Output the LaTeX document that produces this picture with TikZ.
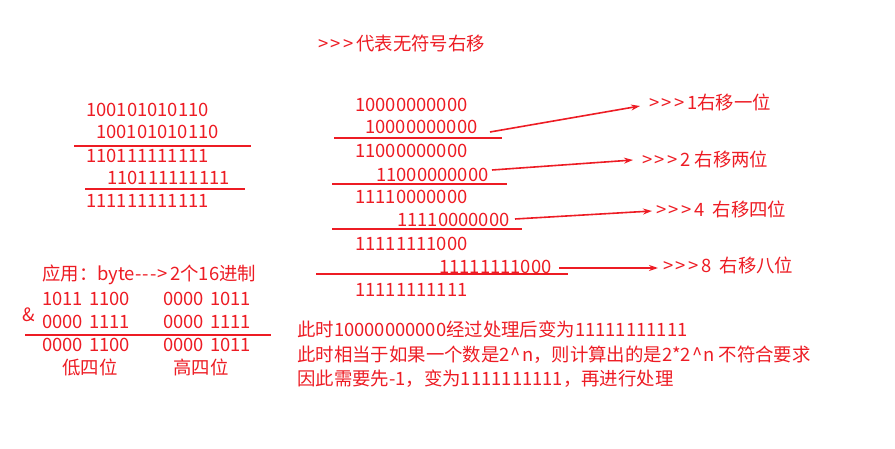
\documentclass[tikz,border=0pt]{standalone}
\usepackage{fontspec}
\setmainfont{Noto Sans CJK SC}
\newfontfamily\cjk{Noto Sans CJK SC}
\usetikzlibrary{arrows.meta}
\definecolor{myred}{RGB}{237,28,36}
\newcommand{\gtsym}{>\hspace{2.5pt}}
\newcommand{\dsh}{-\hspace{1pt}}
\begin{document}
\begin{tikzpicture}[x=1pt,y=-1pt,
  txt/.style={anchor=base west, inner sep=0pt, text=myred, font=\cjk\fontsize{18.4}{18.4}\selectfont},
  rule/.style={draw=myred, line width=1.6pt},
  arr/.style={draw=myred, line width=1.6pt, -{Stealth[length=9pt,width=6pt]}}]
\useasboundingbox (0,0) rectangle (895,449);
% title
\node[txt] (title) at (318,51) {\gtsym\gtsym\gtsym 代表无符号右移};
% left block
\node[txt] (a1) at (86,117) {100101010110};
\node[txt] (a2) at (96,139) {100101010110};
\node[txt] (a3) at (86,163) {110111111111};
\node[txt] (a4) at (107,185) {110111111111};
\node[txt] (a5) at (86,208) {111111111111};
\coordinate (la1) at (74,146); \coordinate (la2) at (251,146);
\coordinate (lb1) at (85,189); \coordinate (lb2) at (245,189);
\draw[rule] (la1) -- (la2);
\draw[rule] (lb1) -- (lb2);
% middle block
\node[txt] (m1) at (355,112) {10000000000};
\node[txt] (m2) at (365,134) {10000000000};
\node[txt] (m3) at (355,158) {11000000000};
\node[txt] (m4) at (376,182) {11000000000};
\node[txt] (m5) at (355,204) {11110000000};
\node[txt] (m6) at (397,227) {11110000000};
\node[txt] (m7) at (355,251) {11111111000};
\node[txt] (m8) at (439,274) {11111111000};
\node[txt] (m9) at (355,297) {11111111111};
\coordinate (r1a) at (334,138); \coordinate (r1b) at (502,138);
\coordinate (r2a) at (332,184); \coordinate (r2b) at (507,184);
\coordinate (r3a) at (332,229); \coordinate (r3b) at (522,229);
\coordinate (r4a) at (316,274); \coordinate (r4b) at (568,274);
\draw[rule] (r1a) -- (r1b);
\draw[rule] (r2a) -- (r2b);
\draw[rule] (r3a) -- (r3b);
\draw[rule] (r4a) -- (r4b);
% labels and arrows
\node[txt] (l1) at (649,110) {\gtsym\gtsym\gtsym 1右移一位};
\node[txt] (l2) at (642,167) {\gtsym\gtsym\gtsym 2 右移两位};
\node[txt] (l3) at (656,217) {\gtsym\gtsym\gtsym 4\ \ 右移四位};
\node[txt] (l4) at (663,273) {\gtsym\gtsym\gtsym 8\ \ 右移八位};
\coordinate (s1) at (490,132);
\coordinate (s2) at (492,170);
\coordinate (s3) at (515,219);
\coordinate (s4) at (559,268);
\draw[arr] (s1) -- ([xshift=-9pt,yshift=4pt]l1.base west);
\draw[arr] (s2) -- ([xshift=-9pt,yshift=7pt]l2.base west);
\draw[arr] (s3) -- ([xshift=-4pt,yshift=6pt]l3.base west);
\draw[arr] (s4) -- ([xshift=-5pt,yshift=5pt]l4.base west);
% bottom-left block
\node[txt] (b0) at (42,281) {应用：byte\dsh\dsh\dsh\gtsym 2个16进制};
\node[txt] (b1) at (42,306) {1011\hspace{2pt} 1100};
\node[txt] (b2) at (163,306) {0000\hspace{2pt} 1011};
\node[txt] (amp) at (22,322) {\&};
\node[txt] (b3) at (42,329) {0000\hspace{2pt} 1111};
\node[txt] (b4) at (163,329) {0000\hspace{2pt} 1111};
\coordinate (rb1) at (25,335); \coordinate (rb2) at (271,335);
\draw[rule] (rb1) -- (rb2);
\node[txt] (b5) at (42,352) {0000\hspace{2pt} 1100};
\node[txt] (b6) at (163,352) {0000\hspace{2pt} 1011};
\node[txt] (b7) at (62,374) {低四位};
\node[txt] (b8) at (173,374) {高四位};
% explanation
\node[txt] (e1) at (297,337) {此时10000000000经过处理后变为11111111111};
\node[txt] (e2) at (297,361) {此时相当于如果一个数是2\hspace{1pt}\^{}\hspace{1pt}n，则计算出的是2*2\hspace{1pt}\^{}\hspace{1pt}n 不符合要求};
\node[txt] (e3) at (297,385) {因此需要先-1，变为1111111111，再进行处理};
\end{tikzpicture}
\end{document}
